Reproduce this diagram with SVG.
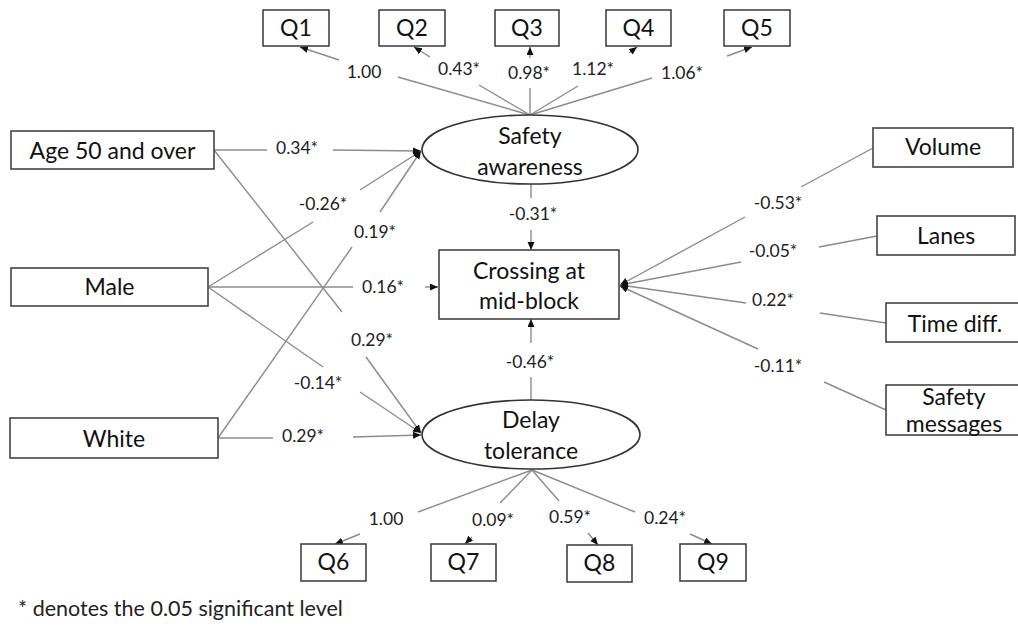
<svg xmlns="http://www.w3.org/2000/svg" width="1018" height="629" viewBox="0 0 1018 629">
<defs>
<marker id="ah" markerUnits="userSpaceOnUse" markerWidth="10" markerHeight="8" refX="8" refY="3.5" orient="auto">
<path d="M0,0 L8,3.5 L0,7 z" fill="#111"/>
</marker>
<style>
.box{fill:#fff;stroke:#444;stroke-width:1.6}
.ell{fill:#fff;stroke:#333;stroke-width:1.6}
.nt{font-family:Lato,"Liberation Sans",sans-serif;font-size:23px;fill:#111;text-anchor:middle}
.el{font-family:Lato,"Liberation Sans",sans-serif;font-size:17.5px;fill:#222;text-anchor:middle}
.cn line{stroke:#8c8c8c;stroke-width:1.4}
.cn line.a{marker-end:url(#ah)}
.fn{font-family:Lato,"Liberation Sans",sans-serif;font-size:21.5px;fill:#222}
</style>
</defs>
<rect width="1018" height="629" fill="#fff"/>

<g id="connectors" class="cn">
<line x1="530" y1="115" x2="398" y2="77"/><line class="a" x1="339" y1="60" x2="300" y2="47"/>
<line x1="530" y1="115" x2="479" y2="85"/><line class="a" x1="430" y1="57" x2="414" y2="47"/>
<line x1="530" y1="115" x2="530" y2="88"/><line class="a" x1="530" y1="58" x2="530" y2="47"/>
<line x1="530" y1="115" x2="578" y2="86"/><line class="a" x1="629" y1="53" x2="637" y2="47"/>
<line x1="530" y1="115" x2="652" y2="78"/><line class="a" x1="727" y1="56" x2="752" y2="47"/>

<line x1="214" y1="150" x2="267" y2="150"/><line class="a" x1="333" y1="150" x2="421" y2="151"/>
<line x1="214" y1="150" x2="342" y2="312"/><line class="a" x1="366" y1="357" x2="421" y2="433"/>
<line x1="208" y1="287" x2="313" y2="222"/><line class="a" x1="360" y1="190" x2="421" y2="151"/>
<line x1="208" y1="287" x2="353" y2="287"/><line class="a" x1="425" y1="287" x2="438" y2="287"/>
<line x1="208" y1="287" x2="323" y2="367"/><line class="a" x1="360" y1="392" x2="421" y2="433"/>
<line x1="218" y1="438" x2="352" y2="247"/><line class="a" x1="380" y1="212" x2="421" y2="151"/>
<line x1="218" y1="438" x2="273" y2="438"/><line class="a" x1="353" y1="437" x2="421" y2="435"/>

<line x1="531" y1="184" x2="531" y2="198"/><line class="a" x1="531" y1="230" x2="531" y2="250"/>
<line x1="531" y1="400" x2="531" y2="377"/><line class="a" x1="531" y1="343" x2="531" y2="319"/>

<line x1="873" y1="148" x2="801" y2="187"/><line class="a" x1="745" y1="217" x2="620" y2="285"/>
<line x1="877" y1="236" x2="819" y2="247"/><line class="a" x1="741" y1="262" x2="620" y2="285"/>
<line x1="886" y1="323" x2="820" y2="313"/><line class="a" x1="746" y1="303" x2="620" y2="285"/>
<line x1="886" y1="410" x2="824" y2="382"/><line class="a" x1="758" y1="349" x2="620" y2="286"/>

<line x1="532" y1="470" x2="418" y2="512"/><line class="a" x1="360" y1="534" x2="335" y2="544"/>
<line x1="532" y1="470" x2="500" y2="503"/><line class="a" x1="472" y1="537" x2="465" y2="544"/>
<line x1="532" y1="470" x2="559" y2="501"/><line class="a" x1="588" y1="533" x2="598" y2="545"/>
<line x1="532" y1="470" x2="635" y2="512"/><line class="a" x1="690" y1="534" x2="712" y2="544"/>
</g>

<g id="edge-labels">
<text class="el" x="364" y="78">1.00</text>
<text class="el" x="459" y="75">0.43*</text>
<text class="el" x="529" y="79">0.98*</text>
<text class="el" x="593" y="75">1.12*</text>
<text class="el" x="682" y="79">1.06*</text>
<text class="el" x="297" y="154">0.34*</text>
<text class="el" x="372" y="346">0.29*</text>
<text class="el" x="323" y="210">-0.26*</text>
<text class="el" x="383" y="293">0.16*</text>
<text class="el" x="318" y="389">-0.14*</text>
<text class="el" x="375" y="238">0.19*</text>
<text class="el" x="303" y="442">0.29*</text>
<text class="el" x="533" y="220">-0.31*</text>
<text class="el" x="530" y="368">-0.46*</text>
<text class="el" x="778" y="209">-0.53*</text>
<text class="el" x="773" y="257">-0.05*</text>
<text class="el" x="773" y="306">0.22*</text>
<text class="el" x="778" y="372">-0.11*</text>
<text class="el" x="386" y="525">1.00</text>
<text class="el" x="493" y="526">0.09*</text>
<text class="el" x="570" y="523">0.59*</text>
<text class="el" x="665" y="524">0.24*</text>
</g>

<g id="q1"><rect class="box" x="263" y="10" width="66" height="36"/><text class="nt" x="296" y="36">Q1</text></g>
<g id="q2"><rect class="box" x="379" y="10" width="66" height="36"/><text class="nt" x="412" y="36">Q2</text></g>
<g id="q3"><rect class="box" x="495" y="10" width="64" height="36"/><text class="nt" x="527" y="36">Q3</text></g>
<g id="q4"><rect class="box" x="606" y="10" width="65" height="36"/><text class="nt" x="638.5" y="36">Q4</text></g>
<g id="q5"><rect class="box" x="724" y="10" width="66" height="36"/><text class="nt" x="757" y="36">Q5</text></g>

<g id="safety-awareness"><ellipse class="ell" cx="530" cy="149.5" rx="108" ry="34.5"/><text class="nt" x="530" y="144">Safety</text><text class="nt" x="530" y="175">awareness</text></g>
<g id="delay-tolerance"><ellipse class="ell" cx="531" cy="434.5" rx="109" ry="34.5"/><text class="nt" x="531" y="428">Delay</text><text class="nt" x="531" y="459">tolerance</text></g>
<g id="crossing"><rect class="box" x="439" y="250" width="180" height="69"/><text class="nt" x="529" y="279">Crossing at</text><text class="nt" x="529" y="309">mid-block</text></g>

<g id="age"><rect class="box" x="11" y="131" width="203" height="38"/><text class="nt" x="112.5" y="159">Age 50 and over</text></g>
<g id="male"><rect class="box" x="11" y="268" width="197" height="38"/><text class="nt" x="109.5" y="295">Male</text></g>
<g id="white"><rect class="box" x="10" y="418" width="208" height="40"/><text class="nt" x="114" y="447">White</text></g>

<g id="volume"><rect class="box" x="873" y="128" width="140" height="39"/><text class="nt" x="943" y="155">Volume</text></g>
<g id="lanes"><rect class="box" x="877" y="216" width="138" height="39"/><text class="nt" x="946" y="244">Lanes</text></g>
<g id="time-diff"><rect class="box" x="886" y="303" width="140" height="39"/><text class="nt" x="955" y="332">Time diff.</text></g>
<g id="safety-messages"><rect class="box" x="886" y="385" width="140" height="50"/><text class="nt" x="954" y="405">Safety</text><text class="nt" x="954" y="432">messages</text></g>

<g id="q6"><rect class="box" x="301" y="544" width="65" height="37"/><text class="nt" x="333.5" y="570">Q6</text></g>
<g id="q7"><rect class="box" x="431" y="544" width="65" height="37"/><text class="nt" x="463.5" y="570">Q7</text></g>
<g id="q8"><rect class="box" x="567" y="545" width="65" height="37"/><text class="nt" x="599.5" y="571">Q8</text></g>
<g id="q9"><rect class="box" x="680" y="544" width="66" height="37"/><text class="nt" x="713" y="570">Q9</text></g>

<text class="fn" x="18" y="616">* denotes the 0.05 significant level</text>
</svg>
